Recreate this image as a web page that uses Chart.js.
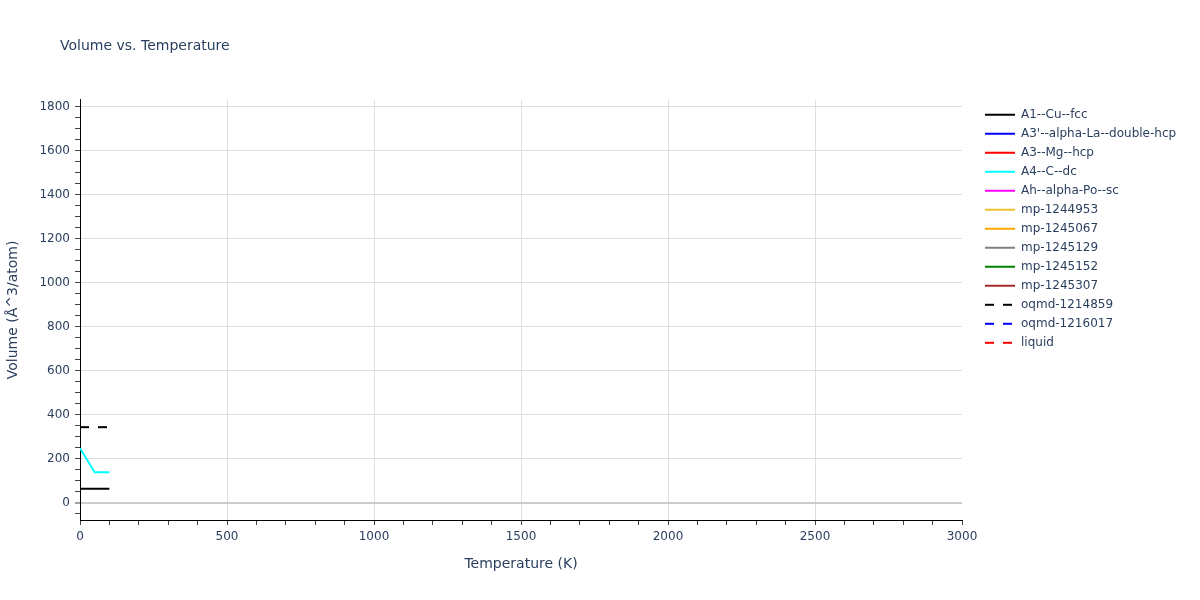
<!DOCTYPE html>
<html>
<head>
<meta charset="utf-8">
<script src="https://cdn.jsdelivr.net/npm/chart.js@4/dist/chart.umd.min.js"></script>
<style>
  html, body { margin: 0; padding: 0; background: #ffffff; }
  #wrap { width: 1200px; height: 600px; }
</style>
</head>
<body>
<div id="wrap"><canvas id="c" width="1200" height="600"></canvas></div>
<script>
// ---- data ----
const seriesNames = [
  "A1--Cu--fcc", "A3'--alpha-La--double-hcp", "A3--Mg--hcp", "A4--C--dc",
  "Ah--alpha-Po--sc", "mp-1244953", "mp-1245067", "mp-1245129",
  "mp-1245152", "mp-1245307", "oqmd-1214859", "oqmd-1216017", "liquid"
];
const seriesColors = [
  "#000000", "#0000ff", "#ff0000", "#00ffff", "#ff00ff", "#eec233", "#ffa500",
  "#808080", "#008000", "#a52a2a", "#000000", "#0000ff", "#ff0000"
];
const seriesDashed = [false, false, false, false, false, false, false, false, false, false, true, true, true];

const tempCu = [0, 100];
const volCu = [63.6, 63.6];
const tempC = [0, 50, 100];
const volC = [248, 139, 139];
const tempOqmd1214859 = [0, 100];
const volOqmd1214859 = [343.5, 343.5];

const seriesTemps = [tempCu, [], [], tempC, [], [], [], [], [], [], tempOqmd1214859, [], []];
const seriesVols = [volCu, [], [], volC, [], [], [], [], [], [], volOqmd1214859, [], []];

const xMin = 0, xMax = 3000, xStep = 100, xLabelStep = 500;
const yMin = -78, yMax = 1830, yStep = 50, yLabelStep = 200;

const textColor = "#2a3f5f";
const fontFamily = "'DejaVu Sans', Verdana, sans-serif";
const dashPattern = [9, 9];

// ---- build datasets ----
const datasets = seriesNames.map((name, i) => ({
  label: name,
  data: seriesTemps[i].map((t, k) => ({ x: t, y: seriesVols[i][k] })),
  borderColor: seriesColors[i],
  backgroundColor: seriesColors[i],
  borderWidth: 2,
  borderDash: seriesDashed[i] ? dashPattern : [],
  pointRadius: 0,
  pointHoverRadius: 0,
  tension: 0,
  fill: false
}));

const layoutTweaks = {
  id: 'layoutTweaks',
  afterInit(chart) {
    const lg = chart.legend;
    const origFit = lg.fit;
    lg.fit = function () { origFit.call(this); this.width = 238; };
  },
  afterLayout(chart) {
    chart.legend.left += 16;
    chart.legend.right += 16;
    chart.legend.top += 2;
    if (chart.titleBlock) {
      chart.titleBlock.left += 60;
      chart.titleBlock.right += 60;
    }
  }
};

new Chart(document.getElementById('c'), {
  type: 'line',
  data: { datasets },
  plugins: [layoutTweaks],
  options: {
    responsive: false,
    animation: false,
    devicePixelRatio: 1,
    layout: { padding: 0 },
    plugins: {
      title: {
        display: true,
        text: 'Volume vs. Temperature',
        align: 'start',
        color: textColor,
        font: { family: fontFamily, size: 14, weight: 'normal' },
        padding: { top: 38, bottom: 45 }
      },
      legend: {
        display: true,
        position: 'right',
        align: 'start',
        fullSize: false,
        labels: {
          usePointStyle: true,
          pointStyle: 'line',
          pointStyleWidth: 30,
          boxHeight: 12,
          padding: 7,
          color: textColor,
          font: { family: fontFamily, size: 12 },
          generateLabels(chart) {
            const items = Chart.defaults.plugins.legend.labels.generateLabels(chart);
            items.forEach((it) => {
              const ds = chart.data.datasets[it.datasetIndex];
              it.lineDash = ds.borderDash || [];
              it.strokeStyle = ds.borderColor;
              it.lineWidth = ds.borderWidth;
              it.pointStyle = 'line';
            });
            return items;
          }
        }
      },
      tooltip: { enabled: false }
    },
    scales: {
      x: {
        type: 'linear',
        min: xMin,
        max: xMax,
        afterFit(scale) { scale.height = 80; },
        border: { display: true, color: '#000000', width: 1 },
        grid: {
          color: (ctx) => {
            if (!ctx.tick) return 'rgba(0,0,0,0)';
            const v = ctx.tick.value;
            return (v % xLabelStep === 0 && v !== xMin && v !== xMax) ? '#dedede' : 'rgba(0,0,0,0)';
          },
          lineWidth: 1,
          drawTicks: true,
          tickLength: 5,
          tickColor: '#444444',
          tickWidth: 1
        },
        ticks: {
          stepSize: xStep,
          autoSkip: false,
          maxRotation: 0,
          padding: 5,
          color: textColor,
          font: { family: fontFamily, size: 12 },
          callback: (v) => (v % xLabelStep === 0 ? String(v) : '')
        },
        title: {
          display: true,
          text: 'Temperature (K)',
          color: textColor,
          font: { family: fontFamily, size: 14 },
          padding: { top: 0, bottom: 27 }
        }
      },
      y: {
        type: 'linear',
        min: yMin,
        max: yMax,
        afterFit(scale) { scale.width = 80; },
        border: { display: true, color: '#000000', width: 1 },
        grid: {
          color: (ctx) => {
            if (!ctx.tick) return 'rgba(0,0,0,0)';
            const v = ctx.tick.value;
            if (v === 0) return '#cccccc';
            return v % yLabelStep === 0 ? '#dedede' : 'rgba(0,0,0,0)';
          },
          lineWidth: (ctx) => (ctx.tick && ctx.tick.value === 0 ? 2 : 1),
          drawTicks: true,
          tickLength: 5,
          tickColor: '#444444',
          tickWidth: 1
        },
        ticks: {
          stepSize: yStep,
          includeBounds: false,
          autoSkip: false,
          padding: 5,
          color: textColor,
          font: { family: fontFamily, size: 12 },
          callback: (v) => (v % yLabelStep === 0 ? String(v) : '')
        },
        title: {
          display: true,
          text: 'Volume (Å^3/atom)',
          color: textColor,
          font: { family: fontFamily, size: 14 },
          padding: { top: 5, bottom: 0 }
        }
      }
    }
  }
});
</script>
</body>
</html>
